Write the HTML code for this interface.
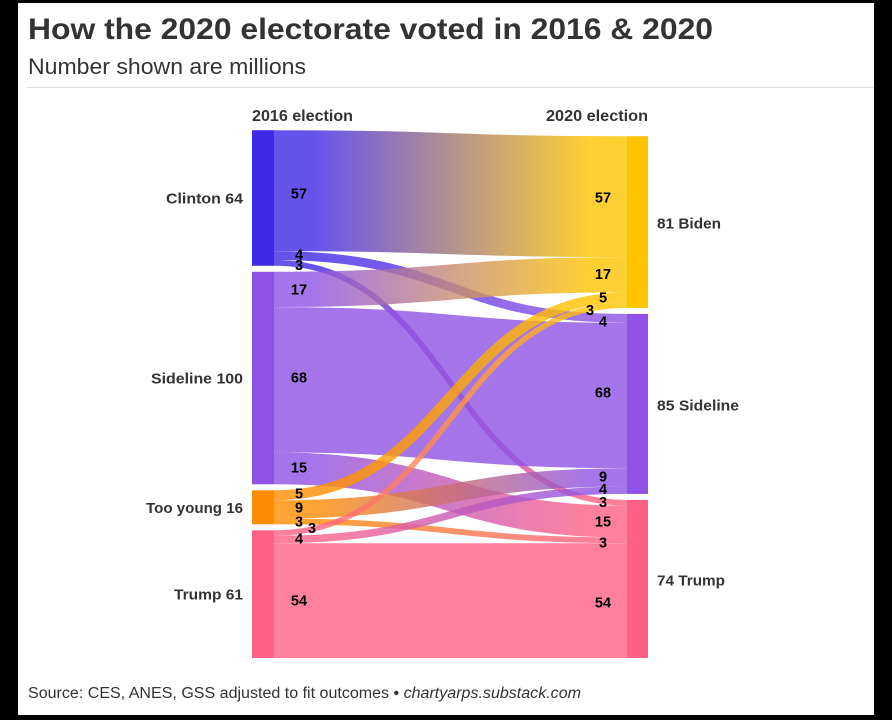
<!DOCTYPE html>
<html lang="en">
<head>
<meta charset="utf-8">
<title>How the 2020 electorate voted in 2016 &amp; 2020</title>
<style>
  html, body { margin: 0; padding: 0; background: #000; }
  body { width: 892px; height: 720px; overflow: hidden; }
  svg { display: block; font-family: "Liberation Sans", Arial, sans-serif; }
  .link-label { font-size: 14.5px; font-weight: 700; fill: #000; text-anchor: middle; dominant-baseline: central; }
  .node-label { font-size: 15px; font-weight: 700; fill: #333; dominant-baseline: central; }
</style>
</head>
<body>
<svg id="chart" width="892" height="720" viewBox="0 0 892 720" xmlns="http://www.w3.org/2000/svg">
  <defs id="gradients"></defs>
  <rect x="18" y="3" width="856" height="712" fill="#ffffff"/>
  <text x="28" y="39" font-size="30" font-weight="700" fill="#333333" textLength="685" lengthAdjust="spacingAndGlyphs">How the 2020 electorate voted in 2016 &amp; 2020</text>
  <text x="28" y="74" font-size="22" fill="#333333" textLength="278" lengthAdjust="spacingAndGlyphs">Number shown are millions</text>
  <rect x="27" y="87" width="847" height="1" fill="#dddddd"/>
  <text x="252" y="121" font-size="15.5" font-weight="700" fill="#333333" textLength="101" lengthAdjust="spacingAndGlyphs">2016 election</text>
  <text x="546" y="121" font-size="15.5" font-weight="700" fill="#333333" textLength="102" lengthAdjust="spacingAndGlyphs">2020 election</text>
  <g id="links"></g>
  <g id="nodes"></g>
  <g id="labels"></g>
  <text x="28" y="698" font-size="15.5" fill="#333333" textLength="553" lengthAdjust="spacingAndGlyphs">Source: CES, ANES, GSS adjusted to fit outcomes • <tspan font-style="italic">chartyarps.substack.com</tspan></text>
</svg>
<script>
// ---- data ----
const leftNames = ["Clinton 64", "Sideline 100", "Too young 16", "Trump 61"];
const rightNames = ["81 Biden", "85 Sideline", "74 Trump"];
const linkSources = [0, 0, 0, 1, 1, 1, 2, 2, 2, 3, 3, 3];
const linkTargets = [0, 1, 2, 0, 1, 2, 0, 1, 2, 0, 1, 2];
const linkValues = [56.9, 4.2, 2.7, 16.6, 68.4, 15, 4.7, 8.6, 2.7, 2.6, 3.5, 54];
const linkLabels = ["57", "4", "3", "17", "68", "15", "5", "9", "3", "3", "4", "54"];

// ---- appearance (not data) ----
const leftColors = ["#4028e8", "#8f52e4", "#ff8c00", "#ff6185"];
const rightColors = ["#ffc400", "#8f52e4", "#ff6185"];
const labelShiftLeft = [[0, 4], [0, 0], [0, 3], [0, 1], [0, -1], [0, 0], [0, -1], [0, -1], [0, 1], [13, -4], [0, 0], [0, 1]];
const labelShiftRight = [[0, 2], [0, 4], [0, 0], [0, 0], [0, -2], [0, 1], [0, 1], [0, 0], [0, 3], [-13, 6], [0, 0], [0, 3]];
const leftLabelWidths = [77, 92, 97, 69];
const rightLabelWidths = [64, 82, 68];

// ---- scales ----
const SCALE = 2.125, GAP = 6, BOTTOM = 658;
const leftNodeX = 252, leftBandX = 274, rightBandX = 627, rightNodeX = 648;
const gradStartX = 313, gradEndX = 590;
const valueToPx = v => v * SCALE;

const NS = "http://www.w3.org/2000/svg";
function make(tag, parent) {
  const el = document.createElementNS(NS, tag);
  parent.appendChild(el);
  return el;
}

function columnTotals(keys, count) {
  const totals = new Array(count).fill(0);
  linkValues.forEach((v, i) => { totals[keys[i]] += v; });
  return totals;
}
function nodeTops(totals) {
  const height = totals.reduce((a, t) => a + valueToPx(t), 0) + GAP * (totals.length - 1);
  let y = BOTTOM - height;
  return totals.map(t => { const top = y; y += valueToPx(t) + GAP; return top; });
}

const leftTotals = columnTotals(linkSources, leftNames.length);
const rightTotals = columnTotals(linkTargets, rightNames.length);
const leftTops = nodeTops(leftTotals);
const rightTops = nodeTops(rightTotals);

const defs = document.getElementById("gradients");
const linksG = document.getElementById("links");
const nodesG = document.getElementById("nodes");
const labelsG = document.getElementById("labels");

const leftCursor = leftTops.slice();
const rightCursor = rightTops.slice();

linkValues.forEach((value, i) => {
  const s = linkSources[i], t = linkTargets[i], w = valueToPx(value);
  const y0 = leftCursor[s] + w / 2;
  const y1 = rightCursor[t] + w / 2;
  leftCursor[s] += w;
  rightCursor[t] += w;

  const grad = make("linearGradient", defs);
  grad.setAttribute("id", "grad" + i);
  grad.setAttribute("gradientUnits", "userSpaceOnUse");
  grad.setAttribute("x1", gradStartX);
  grad.setAttribute("x2", gradEndX);
  grad.setAttribute("y1", 0);
  grad.setAttribute("y2", 0);
  const a = make("stop", grad);
  a.setAttribute("offset", "0");
  a.setAttribute("stop-color", leftColors[s]);
  const b = make("stop", grad);
  b.setAttribute("offset", "1");
  b.setAttribute("stop-color", rightColors[t]);

  const mid = (leftBandX + rightBandX) / 2;
  const path = make("path", linksG);
  
  
  path.setAttribute("d", `M${leftBandX},${y0}C${mid},${y0} ${mid},${y1} ${rightBandX},${y1}`);
  path.setAttribute("fill", "none");
  path.setAttribute("stroke", `url(#grad${i})`);
  path.setAttribute("stroke-width", w);
  path.setAttribute("stroke-opacity", "0.8");

  const left = make("text", labelsG);
  
  
  left.setAttribute("class", "link-label");
  left.setAttribute("x", 299 + labelShiftLeft[i][0]);
  left.setAttribute("y", y0 + labelShiftLeft[i][1]);
  left.textContent = linkLabels[i];

  const right = make("text", labelsG);
  
  
  right.setAttribute("class", "link-label");
  right.setAttribute("x", 603 + labelShiftRight[i][0]);
  right.setAttribute("y", y1 + labelShiftRight[i][1]);
  right.textContent = linkLabels[i];
});

leftNames.forEach((name, i) => {
  const h = valueToPx(leftTotals[i]);
  const r = make("rect", nodesG);
  
  
  r.setAttribute("x", leftNodeX);
  r.setAttribute("y", leftTops[i]);
  r.setAttribute("width", leftBandX - leftNodeX);
  r.setAttribute("height", h);
  r.setAttribute("fill", leftColors[i]);
  const label = make("text", labelsG);
  
  
  label.setAttribute("class", "node-label");
  label.setAttribute("x", 243);
  label.setAttribute("y", leftTops[i] + h / 2 + 1);
  label.setAttribute("text-anchor", "end");
  label.setAttribute("textLength", leftLabelWidths[i]);
  label.setAttribute("lengthAdjust", "spacingAndGlyphs");
  label.textContent = name;
});

rightNames.forEach((name, i) => {
  const h = valueToPx(rightTotals[i]);
  const r = make("rect", nodesG);
  
  
  r.setAttribute("x", rightBandX);
  r.setAttribute("y", rightTops[i]);
  r.setAttribute("width", rightNodeX - rightBandX);
  r.setAttribute("height", h);
  r.setAttribute("fill", rightColors[i]);
  const label = make("text", labelsG);
  
  
  label.setAttribute("class", "node-label");
  label.setAttribute("x", 657);
  label.setAttribute("y", rightTops[i] + h / 2 + 2);
  label.setAttribute("textLength", rightLabelWidths[i]);
  label.setAttribute("lengthAdjust", "spacingAndGlyphs");
  label.textContent = name;
});
</script>
</body>
</html>
